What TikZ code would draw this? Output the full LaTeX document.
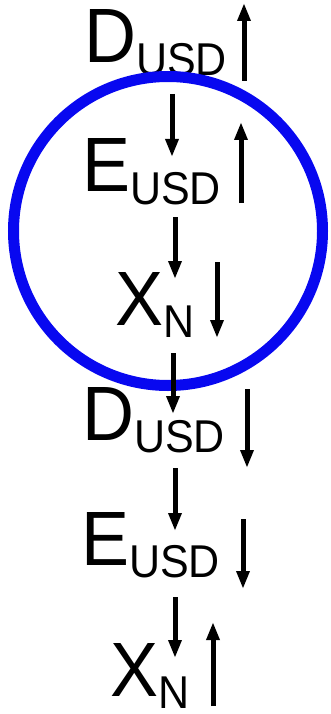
\documentclass[tikz,border=0pt]{standalone}
\usepackage{fontspec}
\setmainfont{Liberation Sans}
\usetikzlibrary{arrows.meta}
\definecolor{ringblue}{RGB}{8,8,240}
\newcommand{\sublabel}[2]{\scalebox{1}[1.07]{{\fontsize{72}{72}\selectfont #1}{\fontsize{43}{43}\selectfont\raisebox{-11.7pt}{#2}}}}
\tikzset{
  lbl/.style={inner sep=0pt, anchor=base west},
  flow/.style={line width=5pt, -{Triangle[length=18pt,width=12.5pt]}},
  ring/.style={draw=ringblue, line width=11pt}
}
\begin{document}
\begin{tikzpicture}[x=1pt,y=-1pt]
\useasboundingbox (0,0) rectangle (331,714);
% labels
\node[lbl] (d1) at (84,63) {\sublabel{D}{USD}};
\node[lbl] (e1) at (82,192) {\sublabel{E}{USD}};
\node[lbl] (x1) at (115,325) {\sublabel{X}{N}};
\node[lbl] (d2) at (82,440) {\sublabel{D}{USD}};
\node[lbl] (e2) at (81,565) {\sublabel{E}{USD}};
\node[lbl] (x2) at (110,696) {\sublabel{X}{N}};
% circle
\node[ring, circle, minimum size=309pt, inner sep=0pt] (ring) at (168,231) {};
% chain arrow endpoints
\coordinate (a1s) at (172,94);  \coordinate (a1e) at (172,157);
\coordinate (a2s) at (175,217); \coordinate (a2e) at (175,279);
\coordinate (a3s) at (173,353); \coordinate (a3e) at (173,414);
\coordinate (a4s) at (175,468); \coordinate (a4e) at (175,531);
\coordinate (a5s) at (175,597); \coordinate (a5e) at (175,658);
% side arrow endpoints
\coordinate (s1s) at (244,81);  \coordinate (s1e) at (244,3);
\coordinate (s2s) at (241,203); \coordinate (s2e) at (241,122);
\coordinate (s3s) at (217,262); \coordinate (s3e) at (217,338);
\coordinate (s4s) at (247,389); \coordinate (s4e) at (247,468);
\coordinate (s5s) at (243,519); \coordinate (s5e) at (243,589);
\coordinate (s6s) at (213,706); \coordinate (s6e) at (213,622);
\foreach \n in {a1,a2,a3,a4,a5,s1,s2,s3,s4,s5,s6}
  \draw[flow] (\n s) -- (\n e);
\end{tikzpicture}
\end{document}
